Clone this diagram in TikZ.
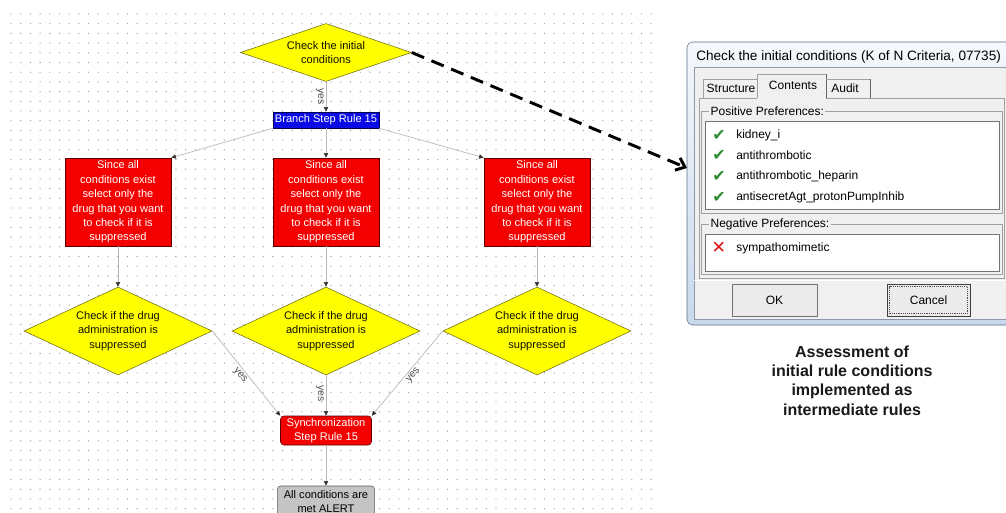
\documentclass[tikz,border=0pt]{standalone}
\usepackage{fontspec}
\setmainfont{Liberation Sans}
\newfontfamily\glyphfont{DejaVu Sans}
\usetikzlibrary{shapes.geometric,arrows.meta}
\definecolor{askyellow}{HTML}{FFFF00}
\definecolor{askedge}{HTML}{6E6A10}
\definecolor{actred}{HTML}{F40000}
\definecolor{actedge}{HTML}{5A0000}
\definecolor{stepblue}{HTML}{0A0AE6}
\definecolor{linkgray}{HTML}{B8B8B8}
\definecolor{dotgray}{HTML}{9C9C9C}
\definecolor{alertgray}{HTML}{C4C4C4}
\definecolor{wintop}{HTML}{F5F8FC}
\definecolor{winbot}{HTML}{C8D9ED}
\definecolor{winedge}{HTML}{5D6E82}
\definecolor{winpanel}{HTML}{F0F0F0}
\definecolor{winline}{HTML}{A0A0A0}
\definecolor{okgreen}{HTML}{2E8B2E}
\definecolor{nored}{HTML}{E01818}
\newcommand{\flowfont}{\fontsize{8.3}{10.8}\selectfont}
\newcommand{\dlgfont}{\fontsize{9}{11}\selectfont}

\begin{document}
\begin{tikzpicture}[x=0.75pt,y=-0.75pt,
  flow/.style={font=\flowfont,align=center,inner sep=0pt},
  ask/.style={flow,diamond,draw=askedge,fill=askyellow,text=black!85!askedge},
  act/.style={flow,rectangle,draw=actedge,fill=actred,text=white,minimum width=79.5pt,minimum height=66pt},
  link/.style={color=linkgray,line width=0.5pt,-{Triangle[length=3.5pt,width=3.2pt,color=black!80]}},
  yeslabel/.style={font=\fontsize{7.8}{9}\selectfont,text=black!70,inner sep=1.5pt,anchor=north},
  dlg/.style={font=\dlgfont,inner sep=0pt},
  glyph/.style={font=\glyphfont\fontsize{12}{14}\selectfont,inner sep=0pt},
  ]
\useasboundingbox (0,0) rectangle (1006,512);
\clip (0,0) rectangle (1006,512);
\fill[white] (0,0) rectangle (1006,512);

% dotted canvas
\foreach \i in {0,...,66}
  \foreach \j in {0,...,51}
    \fill[dotgray] ({11+9.7*\i},{14+9.7*\j}) circle[radius=0.5pt];

\node[ask,aspect=2.95,minimum width=128.25pt,minimum height=43.5pt] (C0) at (326,52.5) {Check the initial\\conditions};
\node[flow,draw=black!70!blue,fill=stepblue,text=white,minimum width=79.5pt,minimum height=12pt] (B15) at (326,120) {Branch Step Rule 15};
\foreach \n/\x in {1/118,2/326,3/537}{
  \node[act] (S\n) at (\x,202) {Since all\\conditions exist\\select only the\\drug that you want\\to check if it is\\suppressed};
  \node[ask,aspect=2.14,minimum width=141pt,minimum height=66pt] (D\n) at (\x,331) {Check if the drug\\administration is\\suppressed};
  \path[link] (S\n) edge (D\n);
}
\node[flow,draw=actedge,fill=actred,text=white,rounded corners=2.5pt,minimum width=68.25pt,minimum height=21.75pt] (Y15) at (326,430.5) {Synchronization\\Step Rule 15};
\node[flow,draw=black!65,fill=alertgray,text=black,rounded corners=2.5pt,minimum width=73pt,minimum height=23.25pt] (A0) at (326,501.5) {All conditions are\\met ALERT};

\path[link] (C0) edge node[yeslabel,rotate=-90,pos=0.5] {yes} (B15);
\path[link] (B15.south west) edge (S1.north east);
\path[link] (B15) edge (S2);
\path[link] (B15.south east) edge (S3.north west);
\path[link] (D1.east) edge node[yeslabel,rotate=-50,pos=0.48] {yes} (Y15.north west);
\path[link] (D2) edge node[yeslabel,rotate=-90,pos=0.45] {yes} (Y15);
\path[link] (D3.west) edge node[yeslabel,rotate=50,pos=0.48] {yes} (Y15.north east);
\path[link] (Y15) edge (A0);

% dialog window
\draw[winedge,rounded corners=4pt,top color=wintop,bottom color=winbot] (687,42) rectangle (1030,325);
\node[dlg,font=\fontsize{10.2}{12}\selectfont,anchor=west] (T0) at (696,57) {Check the initial conditions (K of N Criteria, 07735)};
\draw[draw=winedge!70,fill=winpanel] (694,67) rectangle (1012,319);
\draw[winline] (757,98) -- (699,98) -- (699,278) -- (1004,278) -- (1004,98) -- (826,98);
\draw[white] (694,280) -- (1012,280);
\draw[winline] (703,98) |- (757,79);
\draw[winline] (757,98) |- (826,74);
\draw[black!60] (826,74) -- (826,98);
\draw[winline] (826,79) -- (870,79);
\draw[black!60] (870,79) -- (870,98);
\node[dlg] (TS) at (731,88) {Structure};
\node[dlg] (TC) at (793,85) {Contents};
\node[dlg] (TA) at (845,88) {Audit};

\draw[winline] (701,111) rectangle (1002,213);
\node[dlg,fill=winpanel,anchor=west,inner xsep=1pt] (GP) at (709,111) {Positive Preferences:};
\draw[draw=black!55,fill=white] (705,121) rectangle (999,209);
\foreach \y/\t [count=\k] in {135/kidney\_i,155.7/antithrombotic,176.4/antithrombotic\_heparin,197.1/antisecretAgt\_protonPumpInhib}{
  \node[glyph,text=okgreen] (K\k) at (719,\y) {✔};
  \node[dlg,anchor=west] (P\k) at (736,\y) {\t};
}
\draw[winline] (701,224) rectangle (1002,274);
\node[dlg,fill=winpanel,anchor=west,inner xsep=1pt] (GN) at (709,224) {Negative Preferences:};
\draw[draw=black!55,fill=white] (705,234) rectangle (999,271);
\node[glyph,text=nored,font=\glyphfont\fontsize{13}{14}\selectfont] (X1) at (719,248) {✕};
\node[dlg,anchor=west] (N1) at (736,248) {sympathomimetic};

\node[dlg,draw=black!55,fill=black!8,minimum width=63.75pt,minimum height=24pt] (OK) at (774.5,300) {OK};
\node[dlg,draw=black!75,fill=black!8,minimum width=62.25pt,minimum height=24pt] (CN) at (928.5,300) {Cancel};
\draw[densely dotted,black!70] ([shift={(3,-3)}]CN.south west) rectangle ([shift={(-3,3)}]CN.north east);

\node[font=\fontsize{12}{14.6}\selectfont\bfseries,align=center,text=black!90] (CAP) at (852,380.5) {Assessment of\\initial rule conditions\\implemented as\\intermediate rules};

% link to the dialog
\coordinate (W0) at (687,168);
\draw[line width=2.2pt,dash pattern=on 10pt off 6pt,-{Straight Barb[length=6pt,width=10pt]}] (C0.east) -- (W0);
\end{tikzpicture}
\end{document}
